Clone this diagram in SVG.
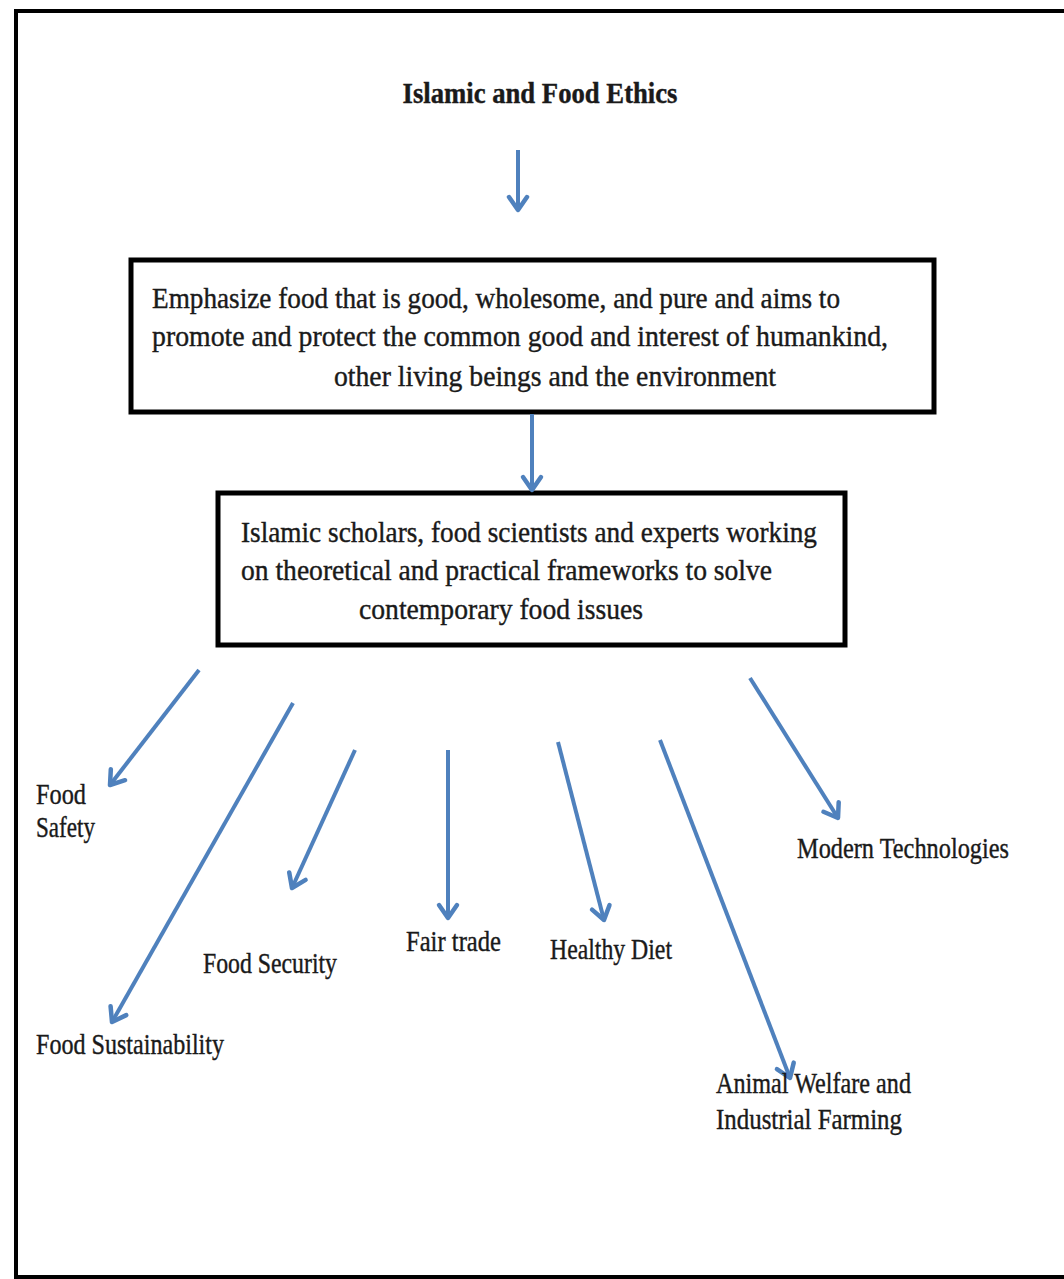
<svg xmlns="http://www.w3.org/2000/svg" width="1064" height="1279" viewBox="0 0 1064 1279">
<style>
.t{font-family:"Liberation Serif","DejaVu Serif",serif;font-size:30px;fill:#1a1a1a;stroke:#1a1a1a;stroke-width:0.4}
.b{font-weight:bold;font-size:29px}
.box{fill:#fff;stroke:#000;stroke-width:5}
.c{stroke:#4F81BD;stroke-width:4;fill:none;marker-end:url(#ah)}
</style>
<defs>
<marker id="ah" markerUnits="userSpaceOnUse" markerWidth="28" markerHeight="28" viewBox="0 0 28 28" refX="23" refY="14" orient="auto">
<path d="M10,5 L23,14 L10,23" fill="none" stroke="#4F81BD" stroke-width="4.5" stroke-linecap="round" stroke-linejoin="round"/>
</marker>
</defs>
<rect width="1064" height="1279" fill="#fff"/>
<path d="M1070,11 H16 V1277 H1070" fill="none" stroke="#000" stroke-width="4"/>
<g id="title"><text class="t b" x="540" y="103" text-anchor="middle" textLength="275" lengthAdjust="spacingAndGlyphs">Islamic and Food Ethics</text></g>
<g id="box1">
<rect class="box" x="131" y="260" width="803" height="152"/>
<text class="t" x="152" y="308" textLength="688" lengthAdjust="spacingAndGlyphs">Emphasize food that is good, wholesome, and pure and aims to</text>
<text class="t" x="152" y="346" textLength="736" lengthAdjust="spacingAndGlyphs">promote and protect the common good and interest of humankind,</text>
<text class="t" x="334" y="386" textLength="442" lengthAdjust="spacingAndGlyphs">other living beings and the environment</text>
</g>
<g id="box2">
<rect class="box" x="218" y="493" width="627" height="152"/>
<text class="t" x="241" y="542" textLength="576" lengthAdjust="spacingAndGlyphs">Islamic scholars, food scientists and experts working</text>
<text class="t" x="241" y="580" textLength="531" lengthAdjust="spacingAndGlyphs">on theoretical and practical frameworks to solve</text>
<text class="t" x="359" y="619" textLength="284" lengthAdjust="spacingAndGlyphs">contemporary food issues</text>
</g>
<g id="connectors">
<line class="c" x1="518" y1="150" x2="518" y2="210"/>
<line class="c" x1="532" y1="414" x2="532" y2="490"/>
<line class="c" x1="199" y1="670" x2="110" y2="785"/>
<line class="c" x1="293" y1="703" x2="112" y2="1022"/>
<line class="c" x1="355" y1="750" x2="292" y2="888"/>
<line class="c" x1="448" y1="750" x2="448" y2="918"/>
<line class="c" x1="558" y1="742" x2="604" y2="920"/>
<line class="c" x1="660" y1="740" x2="790" y2="1078"/>
<line class="c" x1="750" y1="678" x2="838" y2="818"/>
</g>
<g id="food-safety"><text class="t" x="36" y="804" textLength="50" lengthAdjust="spacingAndGlyphs">Food</text><text class="t" x="36" y="837" textLength="59" lengthAdjust="spacingAndGlyphs">Safety</text></g>
<g id="food-sustainability"><text class="t" x="36" y="1054" textLength="188" lengthAdjust="spacingAndGlyphs">Food Sustainability</text></g>
<g id="food-security"><text class="t" x="203" y="973" textLength="134" lengthAdjust="spacingAndGlyphs">Food Security</text></g>
<g id="fair-trade"><text class="t" x="406" y="951" textLength="95" lengthAdjust="spacingAndGlyphs">Fair trade</text></g>
<g id="healthy-diet"><text class="t" x="550" y="959" textLength="122" lengthAdjust="spacingAndGlyphs">Healthy Diet</text></g>
<g id="modern-technologies"><text class="t" x="797" y="858" textLength="212" lengthAdjust="spacingAndGlyphs">Modern Technologies</text></g>
<g id="animal-welfare"><text class="t" x="716" y="1093" textLength="195" lengthAdjust="spacingAndGlyphs">Animal Welfare and</text><text class="t" x="716" y="1129" textLength="186" lengthAdjust="spacingAndGlyphs">Industrial Farming</text></g>
</svg>
